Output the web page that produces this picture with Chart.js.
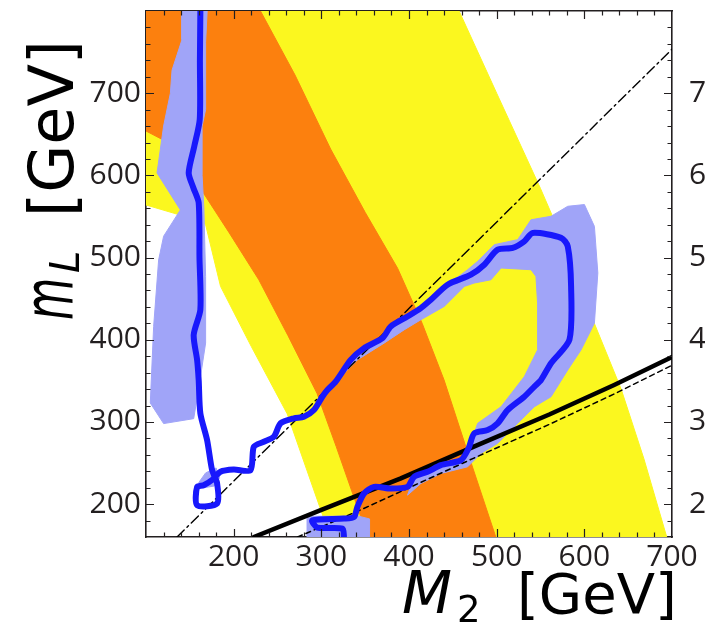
<!DOCTYPE html>
<html>
<head>
<meta charset="utf-8">
<script src="https://cdn.jsdelivr.net/npm/chart.js@4.4.1/dist/chart.umd.min.js"></script>
<style>
  html, body { margin: 0; padding: 0; background: #ffffff; }
  canvas { display: block; }
</style>
</head>
<body>
<canvas id="chart" width="705" height="628"></canvas>
<script>
// Axis ranges (GeV) and labelled tick values
const m2Range = [100, 700];
const mLRange = [160, 800];
const tickValues = [200, 300, 400, 500, 600, 700];

// Outer (yellow) allowed band, closed outline in (M2, mL)
const yellowBand = [[80,850],[437,850],[455,805],[500,700],[550,584],[580,510],[611,421],[642,340],[668,255],[694,160],[700,140],[317,140],[310,160],[301,188],[261,310],[220,392],[185,465],[168,540],[150,552],[138,552],[100,564],[80,572]];

// Inner (orange) allowed band
const orangeBand = [[80,850],[205,850],[220,820],[230.6,800],[270,722],[310.6,632],[350,555],[387,487],[415,420],[440,351],[470,253],[499,160],[505,140],[360,140],[353,160],[337,209],[317,270],[295,335],[262,405],[228.7,473],[195,530],[164,581],[140,615],[118,644],[100,654],[80,662]];

// Uncertainty shading around the contour
const shadeLeft = [[141,805],[141,765],[129.7,728],[127.8,700],[120.1,660],[112.6,603],[139.2,558],[120.1,526],[114.4,497],[108.7,416],[104.9,323],[120.1,298],[154.4,304],[160,340],[168,396],[168,477],[166,560],[164,600],[164,660],[168,680],[168,762],[170,805]];
const shadeRight = [[316,349],[333.5,375.5],[348.7,389.8],[369.7,402],[379.2,416.1],[398.3,428.3],[413.5,438.5],[424.9,448.7],[444,467],[466.9,485.2],[478.3,495.4],[497.3,515.7],[524,521.8],[539.2,546],[562,550.2],[581.1,562.4],[600.1,564.5],[611.5,538],[615.4,481.2],[611.5,420.2],[596.3,387.7],[581.1,363.3],[562,330.7],[543,318.5],[524,298.3],[501.1,273.9],[482,261.7],[466.9,245.4],[436.3,237.3],[413.5,225.1],[398.3,210.9],[405.8,233.2],[421.1,239.3],[436.3,247.4],[459.2,253.5],[466.9,269.8],[474.4,286.1],[478.3,298.3],[505,318.5],[531.5,355.1],[546.7,387.7],[546.7,444.6],[544.8,477.1],[539.2,485.2],[505,487.3],[493.5,473],[474.4,469],[463,464.9],[440.1,440.5],[413.5,424.3],[394.4,412],[371.5,395.8],[341.1,375.5],[322,355.1],[312,345]];
const shadeBottom = [[284,186],[284,150],[355,150],[355,182],[340,186]];
const shadeLoop = [[160,226],[168,238],[180,244],[184,232],[178,222],[166,220]];

// Central contour
const contourLine = [[162,805],[162,800],[161.5,740],[161.3,668],[155,635],[148.7,603],[154,585],[160.1,566.6],[161,500],[162,436.5],[154.4,406],[158.3,375.5],[160.1,351],[162,310.5],[169.7,277.9],[175.4,241.3],[181,226],[181.1,200.7],[158.3,198.7],[158.3,221],[165.8,223],[176,230],[184.9,239.3],[200,242],[219.2,241.3],[223,269.8],[234.4,275.9],[245.8,282],[253.5,298.3],[268.7,304.4],[280.1,306.3],[291.5,314.5],[301.1,330.7],[306.9,338.9],[316.3,349],[333.5,375.5],[348.7,389.8],[369.7,402],[379.2,416.1],[398.3,428.3],[413.5,438.5],[424.9,448.7],[444,467],[470.6,479.1],[485.8,491.3],[501.1,509.6],[518.3,511.7],[531.5,519.8],[541.1,530],[573.5,524],[581.1,513.7],[584.9,464.9],[583,399.9],[562,371.5],[550.6,351.1],[543,343],[531.5,330.7],[512.5,314.5],[501.1,298.3],[489.7,290.1],[474.4,286.1],[468,268],[459.2,253.5],[436.3,247.4],[421.1,239.3],[405.8,233.2],[398.3,221],[379.2,219],[360.1,221],[348.7,212.9],[341.1,196.6],[337.3,184.4],[325.8,182.4],[289.7,180.4],[295.4,171.5],[324,170.2],[325.8,160],[326,150]];

// Reference lines
const solidLine = [[223,160],[300,193],[390,231],[474,270],[560,309],[634,345],[700,379]];
const dashedLine = [[273,160],[347,194],[474,256],[560,297],[634,334],[700,369]];
const dashDotLine = [[135.4,160],[700,753.5]];

const INK = '#231f20';
const toPoints = arr => arr.map(([x, y]) => ({ x, y }));

function region(data, color, order) {
  return {
    data: toPoints(data), showLine: true, fill: 'shape',
    backgroundColor: color, borderColor: color, borderWidth: 1,
    pointRadius: 0, tension: 0, order
  };
}
function curve(data, color, width, dash, order, tension = 0) {
  return {
    data: toPoints(data), showLine: true, fill: false,
    borderColor: color, borderWidth: width, borderDash: dash,
    borderCapStyle: 'round', borderJoinStyle: 'round',
    pointRadius: 0, tension, order
  };
}

// Inward minor/major tick marks on all four sides
const frameTicks = {
  id: 'frameTicks',
  afterDraw(chart) {
    const { ctx, chartArea: a, scales } = chart;
    const sx = scales.x, sy = scales.y;
    ctx.save();
    ctx.strokeStyle = INK;
    ctx.lineWidth = 1.2;
    ctx.beginPath();
    for (let v = m2Range[0] + 20; v < m2Range[1]; v += 20) {
      const len = v % 100 === 0 ? 8 : 4.5;
      const px = Math.round(sx.getPixelForValue(v)) + 0.5;
      ctx.moveTo(px, a.bottom); ctx.lineTo(px, a.bottom - len);
      ctx.moveTo(px, a.top); ctx.lineTo(px, a.top + len);
    }
    for (let v = 180; v < mLRange[1]; v += 20) {
      const len = v % 100 === 0 ? 8 : 4.5;
      const py = Math.round(sy.getPixelForValue(v)) + 0.5;
      ctx.moveTo(a.left, py); ctx.lineTo(a.left + len, py);
      ctx.moveTo(a.right, py); ctx.lineTo(a.right - len, py);
    }
    ctx.stroke();
    ctx.restore();
  }
};

// Axis titles with italic symbols and subscripts
const axisTitles = {
  id: 'axisTitles',
  afterDraw(chart) {
    const ctx = chart.ctx;
    ctx.save();
    ctx.fillStyle = '#000';
    ctx.textAlign = 'left';
    ctx.textBaseline = 'alphabetic';

    // M_2 [GeV]
    ctx.font = 'italic 58px "DejaVu Sans"';
    ctx.fillText('M', 402, 613);
    ctx.font = '37px "DejaVu Sans"';
    ctx.fillText('2', 457, 622);
    ctx.font = '56px "DejaVu Sans"';
    ctx.fillText('[GeV]', 517, 613);

    // m_L [GeV], reading upwards
    ctx.translate(73, 317);
    ctx.rotate(-Math.PI / 2);
    ctx.save();
    ctx.scale(0.62, 1);
    ctx.font = 'italic 70px "DejaVu Sans"';
    ctx.fillText('m', -5, 0);
    ctx.restore();
    ctx.font = 'italic 40px "DejaVu Sans"';
    ctx.fillText('L', 44, 6);
    ctx.font = '62px "DejaVu Sans"';
    ctx.fillText('[GeV]', 100, 0);
    ctx.restore();
  }
};

const tickFont = { family: '"Open Sans"', size: 30 };
const fixedTicks = s => { s.ticks = tickValues.map(v => ({ value: v })); };
const noGrid = { drawOnChartArea: false, drawTicks: false };
const frame = { display: true, color: INK, width: 1.6 };
// Fixed axis band sizes; no extra edge padding for labels
const fitX = h => s => { s.height = h; s.paddingLeft = 0; s.paddingRight = 0; };
const fitY = w => s => { s.width = w; s.paddingTop = 0; s.paddingBottom = 0; };
const SHADE = 'rgb(160,164,248)';

new Chart(document.getElementById('chart'), {
  type: 'scatter',
  data: {
    datasets: [
      region(yellowBand, 'rgb(251,247,31)', 10),
      region(orangeBand, 'rgb(252,128,14)', 9),
      region(shadeLeft, SHADE, 8),
      region(shadeRight, SHADE, 8),
      region(shadeBottom, SHADE, 8),
      region(shadeLoop, SHADE, 8),
      curve(solidLine, '#000', 4.5, [], 5),
      curve(dashedLine, '#000', 1.5, [5, 4], 5),
      curve(dashDotLine, '#000', 1.4, [10, 4, 2, 4], 5),
      curve(contourLine, 'rgb(24,24,252)', 6, [], 1, 0.25)
    ]
  },
  options: {
    responsive: false,
    animation: false,
    devicePixelRatio: 1,
    events: [],
    layout: { padding: 0 },
    plugins: { legend: { display: false }, tooltip: { enabled: false } },
    scales: {
      x: {
        type: 'linear', position: 'bottom', min: m2Range[0], max: m2Range[1], z: 1,
        afterBuildTicks: fixedTicks,
        afterFit: fitX(91),
        ticks: { font: tickFont, color: INK, padding: 2, maxRotation: 0, autoSkip: false },
        grid: noGrid, border: frame
      },
      xTop: {
        type: 'linear', position: 'top', min: m2Range[0], max: m2Range[1], z: 1,
        afterFit: fitX(11),
        ticks: { display: false },
        grid: noGrid, border: frame
      },
      y: {
        type: 'linear', position: 'left', min: mLRange[0], max: mLRange[1], z: 1,
        afterBuildTicks: fixedTicks,
        afterFit: fitY(146),
        ticks: { font: tickFont, color: INK, padding: 5, autoSkip: false },
        grid: noGrid, border: frame
      },
      yRight: {
        type: 'linear', position: 'right', min: mLRange[0], max: mLRange[1], z: 1,
        afterBuildTicks: fixedTicks,
        afterFit: fitY(33),
        ticks: { font: tickFont, color: INK, padding: 17, autoSkip: false },
        grid: noGrid, border: frame
      }
    }
  },
  plugins: [frameTicks, axisTitles]
});
</script>
</body>
</html>
